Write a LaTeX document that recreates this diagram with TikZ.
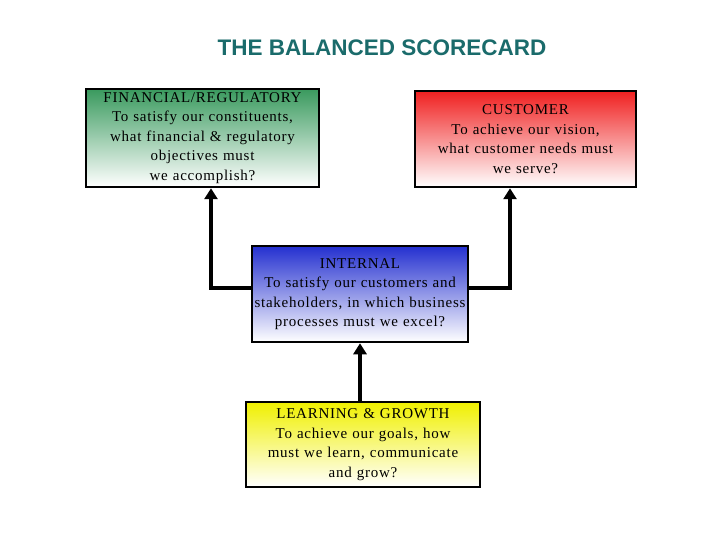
\documentclass[tikz,border=0pt]{standalone}
\usepackage{fontspec}
\setmainfont{Liberation Serif}[LetterSpace=5]
\newfontfamily\titlefont{Liberation Sans}
\usetikzlibrary{arrows.meta}
\definecolor{teal1}{HTML}{1A6B6B}
\definecolor{fgreen}{HTML}{3A9A5E}
\definecolor{cred}{HTML}{F02020}
\definecolor{iblue}{HTML}{2430D0}
\definecolor{lyel}{HTML}{F0F000}
\begin{document}
\begin{tikzpicture}[x=1pt,y=-1pt,
  box/.style={draw=black,line width=2.5pt,align=center,inner sep=1pt,bottom color=white,font=\fontsize{15}{19.5}\selectfont},
  conn/.style={line width=4.5pt,-{Triangle[length=11pt,width=13pt]}}]
\useasboundingbox (0,0) rectangle (720,540);
\node (title) at (382,48) {\titlefont\bfseries\fontsize{22.5}{24}\selectfont\color{teal1}THE BALANCED SCORECARD};
\node[box,top color=fgreen,minimum width=233pt,minimum height=98pt,text width=231pt] (fin) at (202.5,138)
 {FINANCIAL/REGULATORY\\To satisfy our constituents,\\what financial \& regulatory\\objectives must\\we accomplish?};
\node[box,top color=cred,minimum width=221pt,minimum height=96pt,text width=219pt] (cus) at (525.5,139)
 {CUSTOMER\\To achieve our vision,\\what customer needs must\\we serve?};
\node[box,top color=iblue,minimum width=216pt,minimum height=96pt,text width=214pt] (int) at (360,294)
 {INTERNAL\\To satisfy our customers and\\stakeholders, in which business\\processes must we excel?};
\node[box,top color=lyel,minimum width=234pt,minimum height=85pt,text width=232pt] (lrn) at (363,444.5)
 {LEARNING \& GROWTH\\To achieve our goals, how\\must we learn, communicate\\and grow?};
\draw[conn] ([yshift=6pt]int.west) -| ([xshift=8.5pt]fin.south);
\draw[conn] ([yshift=6pt]int.east) -| ([xshift=-15.5pt]cus.south);
\draw[conn] (lrn.north -| int.south) -- (int.south);
\end{tikzpicture}
\end{document}
